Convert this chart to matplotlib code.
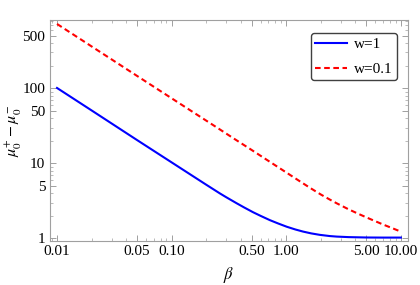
import numpy as np
import matplotlib
matplotlib.use("Agg")
import matplotlib.pyplot as plt
from matplotlib.ticker import FixedLocator, FixedFormatter, NullFormatter

plt.rcParams['font.family'] = ['Liberation Serif', 'DejaVu Serif']
plt.rcParams['mathtext.fontset'] = 'stix'

# values
beta_w1 = [0.01, 0.02, 0.05, 0.1, 0.2, 0.264, 0.3, 0.369, 0.43, 0.514, 0.6, 0.72, 0.85,
           1.01, 1.2, 1.4, 1.65, 1.96, 2.4, 2.75, 3.5, 5.0, 7.0, 10.0]
mu_w1 = [101, 50.8, 20.4, 10.3, 5.2, 3.97, 3.53, 2.94, 2.58, 2.23, 1.99, 1.75, 1.58,
         1.43, 1.315, 1.233, 1.166, 1.115, 1.074, 1.057, 1.04, 1.028, 1.025, 1.025]
beta_w01 = [0.01, 0.02, 0.05, 0.1, 0.177, 0.246, 0.344, 0.482, 0.673, 0.94, 1.32, 1.61,
            2.0, 2.4, 2.75, 3.5, 4.3, 5.36, 7.0, 8.5, 10.0]
mu_w01 = [720, 362, 146, 73.6, 41.9, 30.3, 21.7, 15.6, 11.2, 8.04, 5.74, 4.72,
          3.85, 3.29, 2.94, 2.44, 2.11, 1.82, 1.53, 1.36, 1.23]

xticks = [0.01, 0.05, 0.1, 0.5, 1, 5, 10]
xticklabels = ["0.01", "0.05", "0.10", "0.50", "1.00", "5.00", "10.00"]
yticks = [1, 5, 10, 50, 100, 500]
yticklabels = ["1", "5", "10", "50", "100", "500"]

fig = plt.figure(figsize=(4.2, 2.85), dpi=100)
ax = fig.add_axes([0.118, 0.154, 0.853, 0.776])

ax.plot(beta_w1, mu_w1, color=(0, 0, 1), lw=1.5, label="w=1")
ax.plot(beta_w01, mu_w01, color=(1, 0, 0), lw=1.5, ls=(0, (2.7, 1.7)), label="w=0.1")

ax.set_xscale('log')
ax.set_yscale('log')
ax.set_xlim(0.00861, 11.5)
ax.set_ylim(0.92, 814)

minor_x = [m * 10.0 ** e for e in range(-3, 2) for m in range(2, 10)]
minor_x = [v for v in minor_x if v not in xticks]
minor_y = [m * 10.0 ** e for e in range(-1, 3) for m in range(2, 10) if m != 5]
ax.xaxis.set_major_locator(FixedLocator(xticks))
ax.xaxis.set_major_formatter(FixedFormatter(xticklabels))
ax.xaxis.set_minor_locator(FixedLocator(minor_x))
ax.xaxis.set_minor_formatter(NullFormatter())
ax.yaxis.set_major_locator(FixedLocator(yticks))
ax.yaxis.set_major_formatter(FixedFormatter(yticklabels))
ax.yaxis.set_minor_locator(FixedLocator(minor_y))
ax.yaxis.set_minor_formatter(NullFormatter())

frame = '#a0a0a0'
for s in ax.spines.values():
    s.set_color(frame)
    s.set_linewidth(0.8)
ax.tick_params(which='both', direction='in', top=True, right=True, color=frame,
               labelsize=11, labelcolor='black', pad=3)
ax.tick_params(which='major', length=4, width=0.7)
ax.tick_params(which='minor', length=2, width=0.5)

ax.set_xlabel(r'$\beta$', fontsize=12, labelpad=5)
ax.set_ylabel(r'$\mu_0^{+}-\mu_0^{-}$', fontsize=11.5)
ax.yaxis.label.set_va('center')
ax.yaxis.set_label_coords(-0.098, 0.5)

leg = ax.legend(loc='upper right', bbox_to_anchor=(0.971, 0.94), borderaxespad=0,
                fontsize=11, frameon=True, fancybox=True, edgecolor='#404040',
                handlelength=2.1, handletextpad=0.45, labelspacing=0.7, borderpad=0.3)
leg.get_frame().set_linewidth(1.0)
leg.get_frame().set_alpha(1.0)

fig.savefig("out.png", dpi=100)
